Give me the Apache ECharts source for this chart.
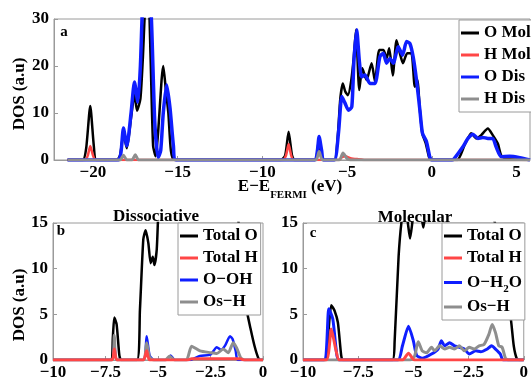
<!DOCTYPE html>
<html>
<head>
<meta charset="utf-8">
<title>DOS</title>
<script src="https://cdn.jsdelivr.net/npm/echarts@6/dist/echarts.min.js"></script>
<style>
html,body{margin:0;padding:0;background:#fff;}
#main{width:531px;height:381px;}
</style>
</head>
<body>
<div id="main"></div>
<script>
// ---- panel a : full range, molecular vs dissociative ----
var aOMol = [[-21.5,0],[-20.6,0],[-20.4,2.5],[-20.16,11.5],[-19.95,3],[-19.8,0],
	[-18.6,0],[-18.4,1],[-18.2,5.5],[-18.0,2.5],[-17.75,9],[-17.55,14],[-17.4,10.5],[-17.2,13],[-17.05,22],[-16.9,34],[-16.75,38],[-16.6,22],[-16.45,3],[-16.3,0.8],[-16.15,6],[-15.95,17],[-15.85,20],[-15.7,15],[-15.55,10],[-15.4,2],[-15.2,0],
	[-8.9,0],[-8.65,1],[-8.45,6],[-8.25,1],[-8.1,0],
	[-6.9,0],[-6.65,4.5],[-6.45,0],
	[-5.75,0],[-5.55,5],[-5.4,13],[-5.25,16.3],[-5.1,14.5],[-4.95,13.8],[-4.75,17],[-4.6,22],[-4.47,27.7],[-4.28,14.9],[-4.1,19.5],[-3.85,17],[-3.55,20.6],[-3.35,16.7],[-3.1,23.4],[-2.85,23.4],[-2.67,21.6],[-2.51,23.8],[-2.3,18],[-2.08,25.5],[-1.88,22.7],[-1.7,20.6],[-1.45,22.7],[-1.2,22.7],[-1.0,15.6],[-0.85,17],[-0.7,10.6],[-0.55,5.5],[-0.35,3.5],[-0.15,0.5],[0,0],
	[1.5,0],[1.94,3.2],[2.33,5.7],[2.63,4.6],[2.92,5.3],[3.31,6.7],[3.6,5.3],[3.9,3.5],[4.1,1],[4.4,0.2],[5.8,0]];
var aHMol = [[-21.5,0],[-20.45,0],[-20.3,1],[-20.16,3.0],[-20.0,1],[-19.85,0],
	[-8.8,0],[-8.6,1],[-8.45,3.4],[-8.3,1],[-8.15,0],
	[-5.5,0],[-5.3,0.6],[-5.1,0.8],[-4.8,0.4],[-4.4,0.2],[-3.8,0],[5.8,0]];
var aODis = [[-21.5,0],[-18.5,0],[-18.35,1.5],[-18.2,6.8],[-18.0,3],[-17.75,10],[-17.55,16.6],[-17.35,12.3],[-17.2,20],[-17.05,35],[-16.8,45],[-16.55,30],[-16.35,8],[-16.15,0.5],[-16.0,2],[-15.85,10],[-15.65,16],[-15.45,11],[-15.25,3],[-15.1,0],
	[-6.9,0],[-6.75,2],[-6.65,5.0],[-6.5,2],[-6.4,0],
	[-5.75,0],[-5.5,6],[-5.31,13.5],[-5.12,12.1],[-4.92,10.6],[-4.72,11.3],[-4.59,21.3],[-4.43,27.7],[-4.28,21.3],[-4.14,17.7],[-3.94,18.1],[-3.65,16.3],[-3.35,16.3],[-3.06,22],[-2.86,22.7],[-2.67,20.6],[-2.47,21.6],[-2.27,20.6],[-1.98,24.1],[-1.72,22.3],[-1.49,25.2],[-1.29,24.8],[-1.1,22],[-0.9,17],[-0.7,10.6],[-0.55,5.7],[-0.31,3.9],[-0.12,0.7],[0,0],
	[1.2,0],[1.35,0.4],[1.84,2.8],[2.14,4.6],[2.43,5.5],[2.72,4.6],[3.02,4.8],[3.31,4.6],[3.6,4.6],[3.8,2.8],[4.1,0.7],[4.6,0.8],[5.2,0.5],[5.8,0]];
var aHDis = [[-21.5,0],[-18.4,0],[-18.2,1.0],[-18.0,0],[-17.7,0],[-17.5,1.1],[-17.3,0],
	[-6.85,0],[-6.65,1.8],[-6.45,0],
	[-5.45,0],[-5.24,1.5],[-5.0,0.3],[-4.8,0],[5.8,0]];
var aTicks = [-20,-15,-10,-5,0,5];

// ---- panel b : dissociative ----
var bTotO = [[-10,0],[-7.25,0],[-7.15,2.5],[-7.08,4.64],[-6.97,3.9],[-6.84,0.5],[-6.75,0],
	[-6.0,0],[-5.86,5.5],[-5.7,13.2],[-5.59,14.2],[-5.46,12.8],[-5.35,10.6],[-5.25,11.3],[-5.17,10.4],[-5.06,12.1],[-4.98,16.4],[-4.8,22],[-4.4,25],[-3.5,28],[-2.5,30],[-1.6,25],[-1.2,16],[-0.9,8],[-0.78,5.5],[-0.6,3.5],[-0.4,1.5],[-0.22,0.2],[-0.1,0],[0,0]];
var bTotH = [[-10,0],[-7.2,0],[-7.08,1.2],[-6.95,0],[-5.7,0],[-5.54,1.0],[-5.4,0],[-3.6,0],[-3.4,0.15],[-1.1,0.15],[-0.9,0],[0,0]];
var bOOH = [[-10,0],[-7.2,0],[-7.08,1.9],[-6.95,0],[-5.7,0],[-5.54,2.6],[-5.4,0.5],[-5.2,0],[-4.6,0],[-4.4,0.5],[-4.2,0],[-3.5,0],[-3.0,0.45],[-2.5,0.6],[-2.2,1.4],[-2.0,1.1],[-1.8,1.6],[-1.57,2.6],[-1.45,2.3],[-1.3,1.0],[-1.2,0],[0,0]];
var bOsH = [[-10,0],[-7.2,0],[-7.08,2.7],[-6.95,0],[-5.7,0],[-5.54,1.9],[-5.4,0.3],[-5.2,0],[-4.65,0],[-4.45,0.4],[-4.2,0],[-3.65,0],[-3.4,1.5],[-3.0,1.0],[-2.5,0.8],[-2.2,0.7],[-1.9,1.2],[-1.65,0.8],[-1.42,1.9],[-1.25,1.3],[-1.05,0.2],[-0.85,0],[0,0]];

// ---- panel c : molecular ----
var cTotO = [[-10,0],[-8.98,0],[-8.85,3],[-8.72,6.0],[-8.57,5.4],[-8.42,4.1],[-8.27,0.5],[-8.2,0],
	[-5.95,0],[-5.85,2],[-5.67,11.3],[-5.52,15.5],[-5.38,17],[-5.25,15],[-5.15,13.3],[-5.05,15],[-4.9,18],[-4.65,16],[-4.55,14.5],[-4.45,16],[-4.0,20],[-3.0,22],[-2.0,20],[-1.2,14],[-0.8,7],[-0.6,4.8],[-0.45,1.5],[-0.31,0.1],[-0.2,0],[0,0]];
var cTotH = [[-10,0],[-8.95,0],[-8.72,3.4],[-8.5,1],[-8.35,0],[-5.5,0],[-5.22,0.75],[-4.95,0],[0,0]];
var cOH2O = [[-10,0],[-9.05,0],[-8.83,5.6],[-8.65,4.5],[-8.5,1.2],[-8.38,0],[-5.7,0],[-5.5,1.5],[-5.22,3.7],[-5.0,2.1],[-4.85,0.5],[-4.6,0.2],[-4.18,0.65],[-3.88,1.2],[-3.73,2.1],[-3.58,1.55],[-3.36,1.9],[-3.14,1.55],[-2.92,1.4],[-2.69,1.2],[-2.47,0.65],[-2.17,1.0],[-1.95,0.9],[-1.65,1.2],[-1.46,1.55],[-1.28,1.2],[-1.06,0.65],[-0.94,0],[0,0]];
var cOsH = [[-10,0],[-5.15,0],[-4.95,0.4],[-4.78,2.0],[-4.6,1.0],[-4.4,0.8],[-4.18,1.4],[-4.03,1.0],[-3.81,1.55],[-3.58,1.2],[-3.36,1.4],[-3.14,1.2],[-2.92,1.55],[-2.69,1.0],[-2.47,1.4],[-2.25,1.2],[-2.02,1.55],[-1.8,1.7],[-1.58,2.8],[-1.43,3.9],[-1.28,3.0],[-1.13,1.55],[-0.98,1.4],[-0.83,0.2],[-0.7,0],[0,0]];

var FONT = '"Liberation Serif", "Times New Roman", serif';
var BLACK = '#000000', RED = '#ff4646', BLUE = '#0f1eff', GRAY = '#8e8e8e', BOX = '#9a9a9a';

function minus(v) { return String(v).replace('-', '\u2212'); }

function ln(name, data, color, width, idx) {
	return {
		name: name, type: 'line', xAxisIndex: idx, yAxisIndex: idx,
		data: data, symbol: 'none', smooth: 0.2,
		lineStyle: { color: color, width: width }, itemStyle: { color: color }
	};
}

var tickLabel = { color: '#000', fontFamily: FONT, fontWeight: 'bold', fontSize: 17, formatter: minus, showMinLabel: true, showMaxLabel: true };

function xAx(idx, min, max, interval, custom) {
	var ax = {
		gridIndex: idx, type: 'value', min: min, max: max,
		axisLine: { show: true, onZero: false, lineStyle: { color: BOX } },
		axisTick: { show: true, inside: true, length: 4, lineStyle: { color: BOX } },
		axisLabel: Object.assign({ margin: 4 }, tickLabel),
		splitLine: { show: false }
	};
	if (custom) {
		ax.axisTick.customValues = custom;
		ax.axisLabel.customValues = custom;
	} else {
		ax.interval = interval;
	}
	return ax;
}
function yAx(idx, max, interval) {
	return {
		gridIndex: idx, type: 'value', min: 0, max: max, interval: interval,
		axisLine: { show: true, onZero: false, lineStyle: { color: BOX } },
		axisTick: { show: true, inside: true, length: 4, lineStyle: { color: BOX } },
		axisLabel: Object.assign({ margin: 5 }, tickLabel),
		splitLine: { show: false }
	};
}

var legendBase = {
	orient: 'vertical', icon: 'rect', itemWidth: 18, itemHeight: 3, itemGap: 2,
	padding: [3, 3, 3, 2], backgroundColor: '#fff', borderColor: BOX, borderWidth: 1, borderRadius: 0,
	textStyle: { color: '#000', fontFamily: FONT, fontWeight: 'bold', fontSize: 17, lineHeight: 20,
		rich: {
			t: { fontFamily: FONT, fontWeight: 'bold', fontSize: 17, lineHeight: 20, color: '#000' },
			s: { fontFamily: FONT, fontWeight: 'bold', fontSize: 11, lineHeight: 11, padding: [14, 0, 0, 0], color: '#000' }
		}
	}
};

var chart = echarts.init(document.getElementById('main'));
chart.setOption({
	animation: false,
	backgroundColor: '#fff',
	grid: [
		{ left: 54, top: 19, width: 476, height: 141, show: true, borderColor: BOX, borderWidth: 1 },
		{ left: 53, top: 223, width: 210, height: 138, show: true, borderColor: BOX, borderWidth: 1 },
		{ left: 303, top: 223, width: 224, height: 138, show: true, borderColor: BOX, borderWidth: 1 }
	],
	xAxis: [
		xAx(0, -22.3, 5.8, null, aTicks),
		xAx(1, -10, 0, 2.5),
		xAx(2, -10, 0, 2.5)
	],
	yAxis: [
		yAx(0, 30, 10),
		yAx(1, 15, 5),
		yAx(2, 15, 5)
	],
	legend: [
		Object.assign({}, legendBase, { left: 459, top: 20, data: ['O Mol', 'H Mol', 'O Dis', 'H Dis'] }),
		Object.assign({}, legendBase, { left: 178, top: 223, data: ['Total O', 'Total H', 'O\u2212OH', 'Os\u2212H'] }),
		Object.assign({}, legendBase, { left: 442, top: 223, data: ['Total O', 'Total H', 'O\u2212H2O', 'Os\u2212H'],
			formatter: function (name) {
				return name === 'O\u2212H2O' ? '{t|O\u2212H}{s|2}{t|O}' : name;
			}
		})
	],
	graphic: [
		{ type: 'text', x: 20, y: 94, rotation: Math.PI / 2,
			style: { text: 'DOS (a.u)', font: 'bold 17px ' + FONT, fill: '#000', align: 'center', verticalAlign: 'middle', textAlign: 'center', textVerticalAlign: 'middle' } },
		{ type: 'text', x: 20, y: 305, rotation: Math.PI / 2,
			style: { text: 'DOS (a.u)', font: 'bold 17px ' + FONT, fill: '#000', align: 'center', verticalAlign: 'middle', textAlign: 'center', textVerticalAlign: 'middle' } },
		{ type: 'text', x: 290, y: 177,
			style: { text: '{m|E\u2212E}{s|FERMI}{m| (eV)}', align: 'center', verticalAlign: 'top', textAlign: 'center', textVerticalAlign: 'top',
				rich: {
					m: { fontFamily: FONT, fontWeight: 'bold', fontSize: 17, lineHeight: 20, fill: '#000', color: '#000' },
					s: { fontFamily: FONT, fontWeight: 'bold', fontSize: 11, lineHeight: 11, padding: [16, 0, 0, 0], fill: '#000', color: '#000' }
				} } },
		{ type: 'text', x: 156, y: 217,
			style: { text: 'Dissociative', font: 'bold 17px ' + FONT, fill: '#000', align: 'center', verticalAlign: 'middle', textAlign: 'center', textVerticalAlign: 'middle' } },
		{ type: 'text', x: 415, y: 218,
			style: { text: 'Molecular', font: 'bold 17px ' + FONT, fill: '#000', align: 'center', verticalAlign: 'middle', textAlign: 'center', textVerticalAlign: 'middle' } },
		{ type: 'text', x: 64, y: 32,
			style: { text: 'a', font: 'bold 15px ' + FONT, fill: '#000', align: 'center', verticalAlign: 'middle', textAlign: 'center', textVerticalAlign: 'middle' } },
		{ type: 'text', x: 61, y: 231,
			style: { text: 'b', font: 'bold 15px ' + FONT, fill: '#000', align: 'center', verticalAlign: 'middle', textAlign: 'center', textVerticalAlign: 'middle' } },
		{ type: 'text', x: 313, y: 233,
			style: { text: 'c', font: 'bold 15px ' + FONT, fill: '#000', align: 'center', verticalAlign: 'middle', textAlign: 'center', textVerticalAlign: 'middle' } }
	],
	series: [
		ln('O Mol', aOMol, BLACK, 2.5, 0),
		ln('H Mol', aHMol, RED, 2.5, 0),
		ln('O Dis', aODis, BLUE, 3.5, 0),
		ln('H Dis', aHDis, GRAY, 3, 0),

		ln('Total O', bTotO, BLACK, 2.5, 1),
		ln('O\u2212OH', bOOH, BLUE, 2.5, 1),
		ln('Os\u2212H', bOsH, GRAY, 3, 1),
		ln('Total H', bTotH, RED, 3, 1),

		ln('Total O', cTotO, BLACK, 2.5, 2),
		ln('O\u2212H2O', cOH2O, BLUE, 3, 2),
		ln('Os\u2212H', cOsH, GRAY, 3, 2),
		ln('Total H', cTotH, RED, 3, 2)
	]
});
</script>
</body>
</html>
